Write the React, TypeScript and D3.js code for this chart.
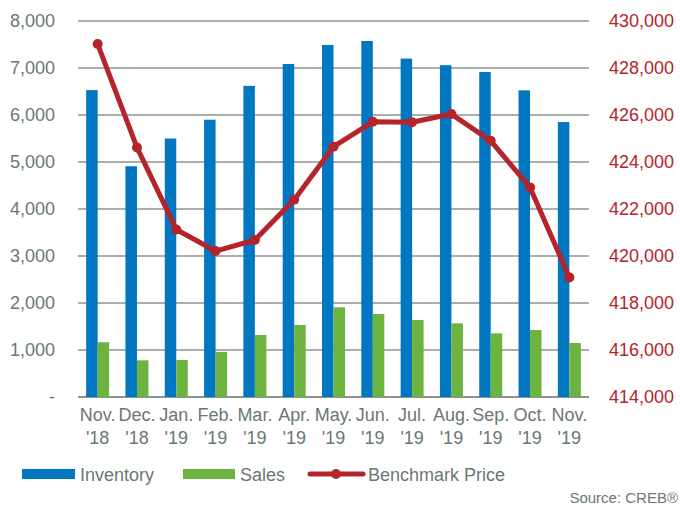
import React from 'react'
import * as d3 from 'd3'

// months shown on the x axis (two lines each)
const months = ['Nov.', 'Dec.', 'Jan.', 'Feb.', 'Mar.', 'Apr.', 'May.', 'Jun.', 'Jul.', 'Aug.', 'Sep.', 'Oct.', 'Nov.']
const years = ["'18", "'18", "'19", "'19", "'19", "'19", "'19", "'19", "'19", "'19", "'19", "'19", "'19"]

const inventory = [6530, 4910, 5500, 5900, 6620, 7085, 7490, 7575, 7200, 7060, 6915, 6525, 5850]
const sales = [1165, 780, 787, 960, 1320, 1532, 1908, 1766, 1638, 1567, 1355, 1425, 1150]
const benchmark = [429020, 424620, 421130, 420210, 420680, 422390, 424650, 425710, 425690, 426040, 424900, 422920, 419090]

const leftTicks = [0, 1000, 2000, 3000, 4000, 5000, 6000, 7000, 8000]
const rightTicks = [414000, 416000, 418000, 420000, 422000, 424000, 426000, 428000, 430000]

const BLUE = '#0077c0'
const GREEN = '#6cb33f'
const RED = '#b5232b'
const TEXT = '#6a7873'
const GRID = '#8c9691'
const FONT = '"Liberation Sans", Arial, sans-serif'

const App = () => {
  const width = 680
  const height = 508
  const left = 78
  const right = 589
  const top = 21
  const bottom = 397

  const x = d3.scaleBand<number>()
    .domain(d3.range(months.length))
    .range([left, right])
    .padding(0)

  const yLeft = d3.scaleLinear().domain([0, 8000]).range([bottom, top])
  const yRight = d3.scaleLinear().domain([414000, 430000]).range([bottom, top])

  const barW = 11.5
  const center = (i: number) => (x(i) as number) + x.bandwidth() / 2

  const fmt = d3.format(',')

  const line = d3.line<number>()
    .x((d, i) => center(i))
    .y((d) => yRight(d))

  return (
    <svg width={width} height={height} style={{ position: 'absolute', left: 0, top: 0, background: '#fff' }}
      fontFamily={FONT}>
      {/* gridlines */}
      <g>
        {leftTicks.map((t) => (
          <line key={t} x1={left} x2={right} y1={yLeft(t)} y2={yLeft(t)}
            stroke={GRID} strokeWidth={t === 0 ? 2 : 1.5} />
        ))}
      </g>

      {/* left axis labels */}
      <g fontSize={18} fill={TEXT} textAnchor="end">
        {leftTicks.map((t) => (
          <text key={t} x={55} y={yLeft(t)} dy="0.35em">{t === 0 ? '-' : fmt(t)}</text>
        ))}
      </g>

      {/* right axis labels */}
      <g fontSize={18} fill={RED} textAnchor="start">
        {rightTicks.map((t) => (
          <text key={t} x={609} y={yRight(t)} dy="0.35em">{fmt(t)}</text>
        ))}
      </g>

      {/* bars */}
      <g>
        {inventory.map((v, i) => (
          <rect key={'inv' + i} x={center(i) - barW} y={yLeft(v)} width={barW} height={bottom - yLeft(v)} fill={BLUE} />
        ))}
        {sales.map((v, i) => (
          <rect key={'sal' + i} x={center(i)} y={yLeft(v)} width={barW} height={bottom - yLeft(v)} fill={GREEN} />
        ))}
      </g>

      {/* benchmark price line */}
      <path d={line(benchmark) || ''} fill="none" stroke={RED} strokeWidth={5} strokeLinejoin="round" />
      {benchmark.map((v, i) => (
        <circle key={'pt' + i} cx={center(i)} cy={yRight(v)} r={5} fill={RED} />
      ))}

      {/* x labels */}
      <g fontSize={18} fill={TEXT} textAnchor="middle">
        {months.map((m, i) => (
          <text key={'m' + i} x={center(i)} y={421}>{m}</text>
        ))}
        {years.map((yr, i) => (
          <text key={'y' + i} x={center(i)} y={444}>{yr}</text>
        ))}
      </g>

      {/* legend */}
      <g fontSize={18} fill={TEXT}>
        <rect x={22} y={469} width={53} height={10} fill={BLUE} />
        <text x={80} y={481}>Inventory</text>
        <rect x={183} y={469} width={52} height={10} fill={GREEN} />
        <text x={240} y={481}>Sales</text>
        <line x1={310} x2={363} y1={474} y2={474} stroke={RED} strokeWidth={5} strokeLinecap="round" />
        <circle cx={336} cy={474} r={5} fill={RED} />
        <text x={368} y={481}>Benchmark Price</text>
      </g>

      <text x={678} y={503} fontSize={15} fill={TEXT} textAnchor="end">Source: CREB®</text>
    </svg>
  )
}

export default App
